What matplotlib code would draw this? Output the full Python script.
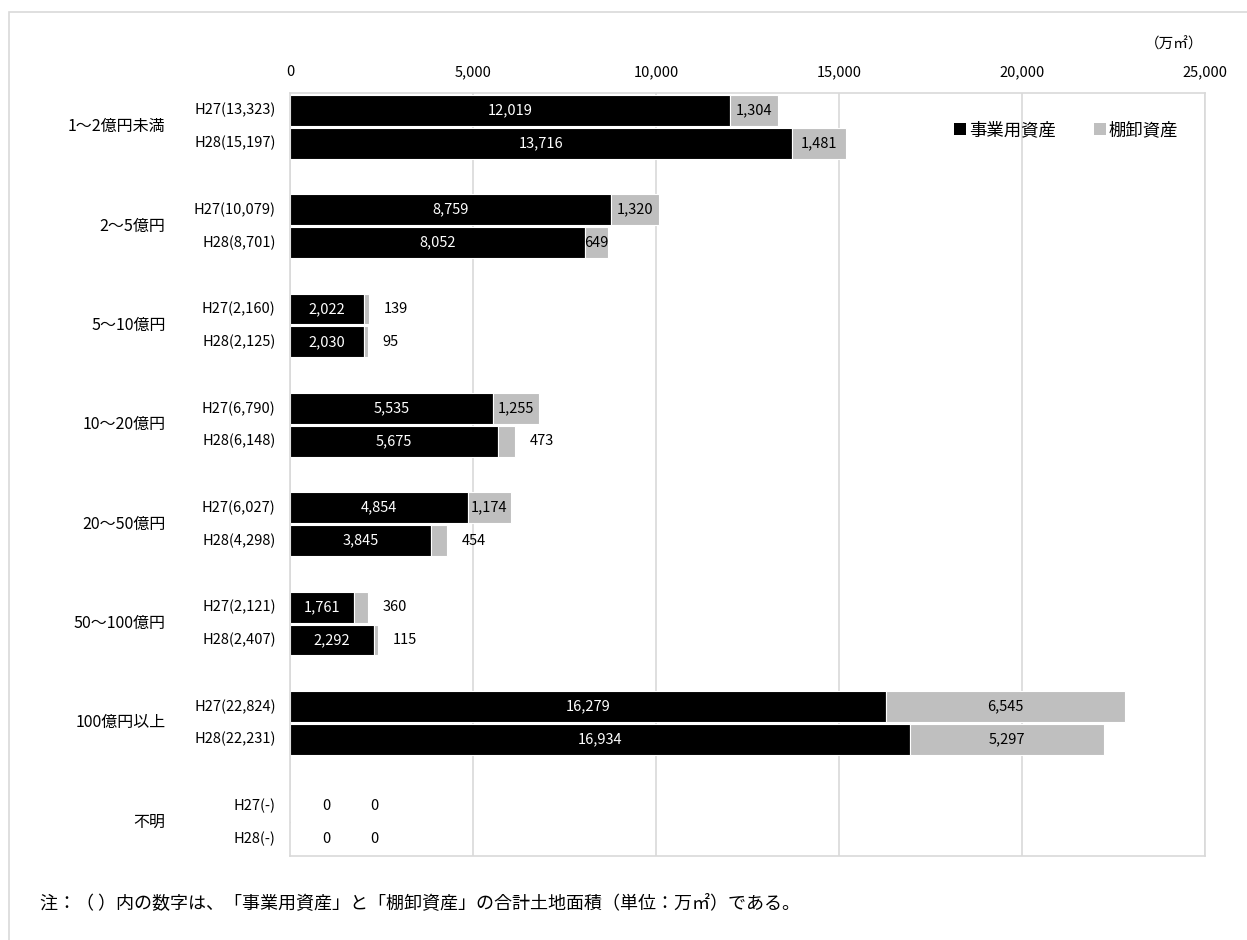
import matplotlib.pyplot as plt
from matplotlib.patches import Rectangle, Patch

plt.rcParams['font.family'] = ['Noto Sans CJK JP', 'DejaVu Sans']

# 資本金階級別の土地面積（万㎡）
categories = ['1～2億円未満', '2～5億円', '5～10億円', '10～20億円',
              '20～50億円', '50～100億円', '100億円以上', '不明']
years = ['H27', 'H28']
jigyo_h27 = [12019, 8759, 2022, 5535, 4854, 1761, 16279, 0]
tana_h27 = [1304, 1320, 139, 1255, 1174, 360, 6545, 0]
total_h27 = [13323, 10079, 2160, 6790, 6027, 2121, 22824, None]
jigyo_h28 = [13716, 8052, 2030, 5675, 3845, 2292, 16934, 0]
tana_h28 = [1481, 649, 95, 473, 454, 115, 5297, 0]
total_h28 = [15197, 8701, 2125, 6148, 4298, 2407, 22231, None]
xticks = [0, 5000, 10000, 15000, 20000, 25000]

BLACK = '#000000'
GREY = '#bfbfbf'
FRAME = '#d9d9d9'
FS = 10.5

fig = plt.figure(figsize=(12.47, 9.40), dpi=100)
ax = fig.add_axes([290 / 1247, 1 - 856 / 940, 915 / 1247, (856 - 93) / 940])

# outer chart-area border
fig.patches.append(Rectangle((9 / 1247, -0.1), 1.2, 1 - 12 / 940 + 0.1,
                             transform=fig.transFigure, fill=False,
                             edgecolor=FRAME, linewidth=1.2))

bar_h = 0.31
offs = [-0.165, 0.165]
series = [(jigyo_h27, tana_h27, total_h27), (jigyo_h28, tana_h28, total_h28)]

for i, cat in enumerate(categories):
    for k, (jig, tan, tot) in enumerate(series):
        y = i + offs[k]
        a, b = jig[i], tan[i]
        ax.barh(y, a, height=bar_h, color=BLACK, edgecolor='white', linewidth=0.8)
        ax.barh(y, b, left=a, height=bar_h, color=GREY, edgecolor='white', linewidth=0.8)
        # row label with total
        lab = f'{years[k]}({tot[i]:,})' if tot[i] else f'{years[k]}(-)'
        ax.text(-390, y, lab, ha='right', va='center', fontsize=FS)
        if a + b == 0:
            ax.text(1000, y, '0', ha='center', va='center', fontsize=FS)
            ax.text(2300, y, '0', ha='center', va='center', fontsize=FS)
            continue
        ax.text(a / 2, y, f'{a:,}', ha='center', va='center', color='white', fontsize=FS)
        if b >= 600:
            ax.text(a + b / 2, y, f'{b:,}', ha='center', va='center', fontsize=FS)
        else:
            ax.text(a + b + 400, y, f'{b:,}', ha='left', va='center', fontsize=FS)
    ax.text(-3400, i, cat, ha='right', va='center', fontsize=11.5)

ax.set_xlim(0, 25000)
ax.set_ylim(7.34, -0.34)
ax.xaxis.tick_top()
ax.set_xticks(xticks)
ax.set_xticklabels([f'{v:,}' for v in xticks], fontsize=FS)
ax.tick_params(axis='x', length=0, pad=10)
ax.set_yticks([])
ax.grid(axis='x', color=FRAME, linewidth=1.2)
ax.set_axisbelow(True)
for s in ax.spines.values():
    s.set_color(FRAME)
    s.set_linewidth(1.2)

fig.text(1203 / 1247, 1 - 44 / 940, '（万㎡）', ha='right', va='center', fontsize=FS)

handles = [Patch(facecolor=BLACK, label='事業用資産'),
           Patch(facecolor=GREY, label='棚卸資産')]
fig.legend(handles=handles, loc='center left',
           bbox_to_anchor=(954 / 1247, 1 - 130 / 940), ncol=2, frameon=False,
           fontsize=12.5, handlelength=0.7, handleheight=0.7,
           handletextpad=0.15, columnspacing=2.2, borderpad=0, borderaxespad=0)

fig.text(40 / 1247, 1 - 903 / 940,
         '注：（ ）内の数字は、「事業用資産」と「棚卸資産」の合計土地面積（単位：万㎡）である。',
         ha='left', va='center', fontsize=13)

fig.savefig('out.png', dpi=100)
